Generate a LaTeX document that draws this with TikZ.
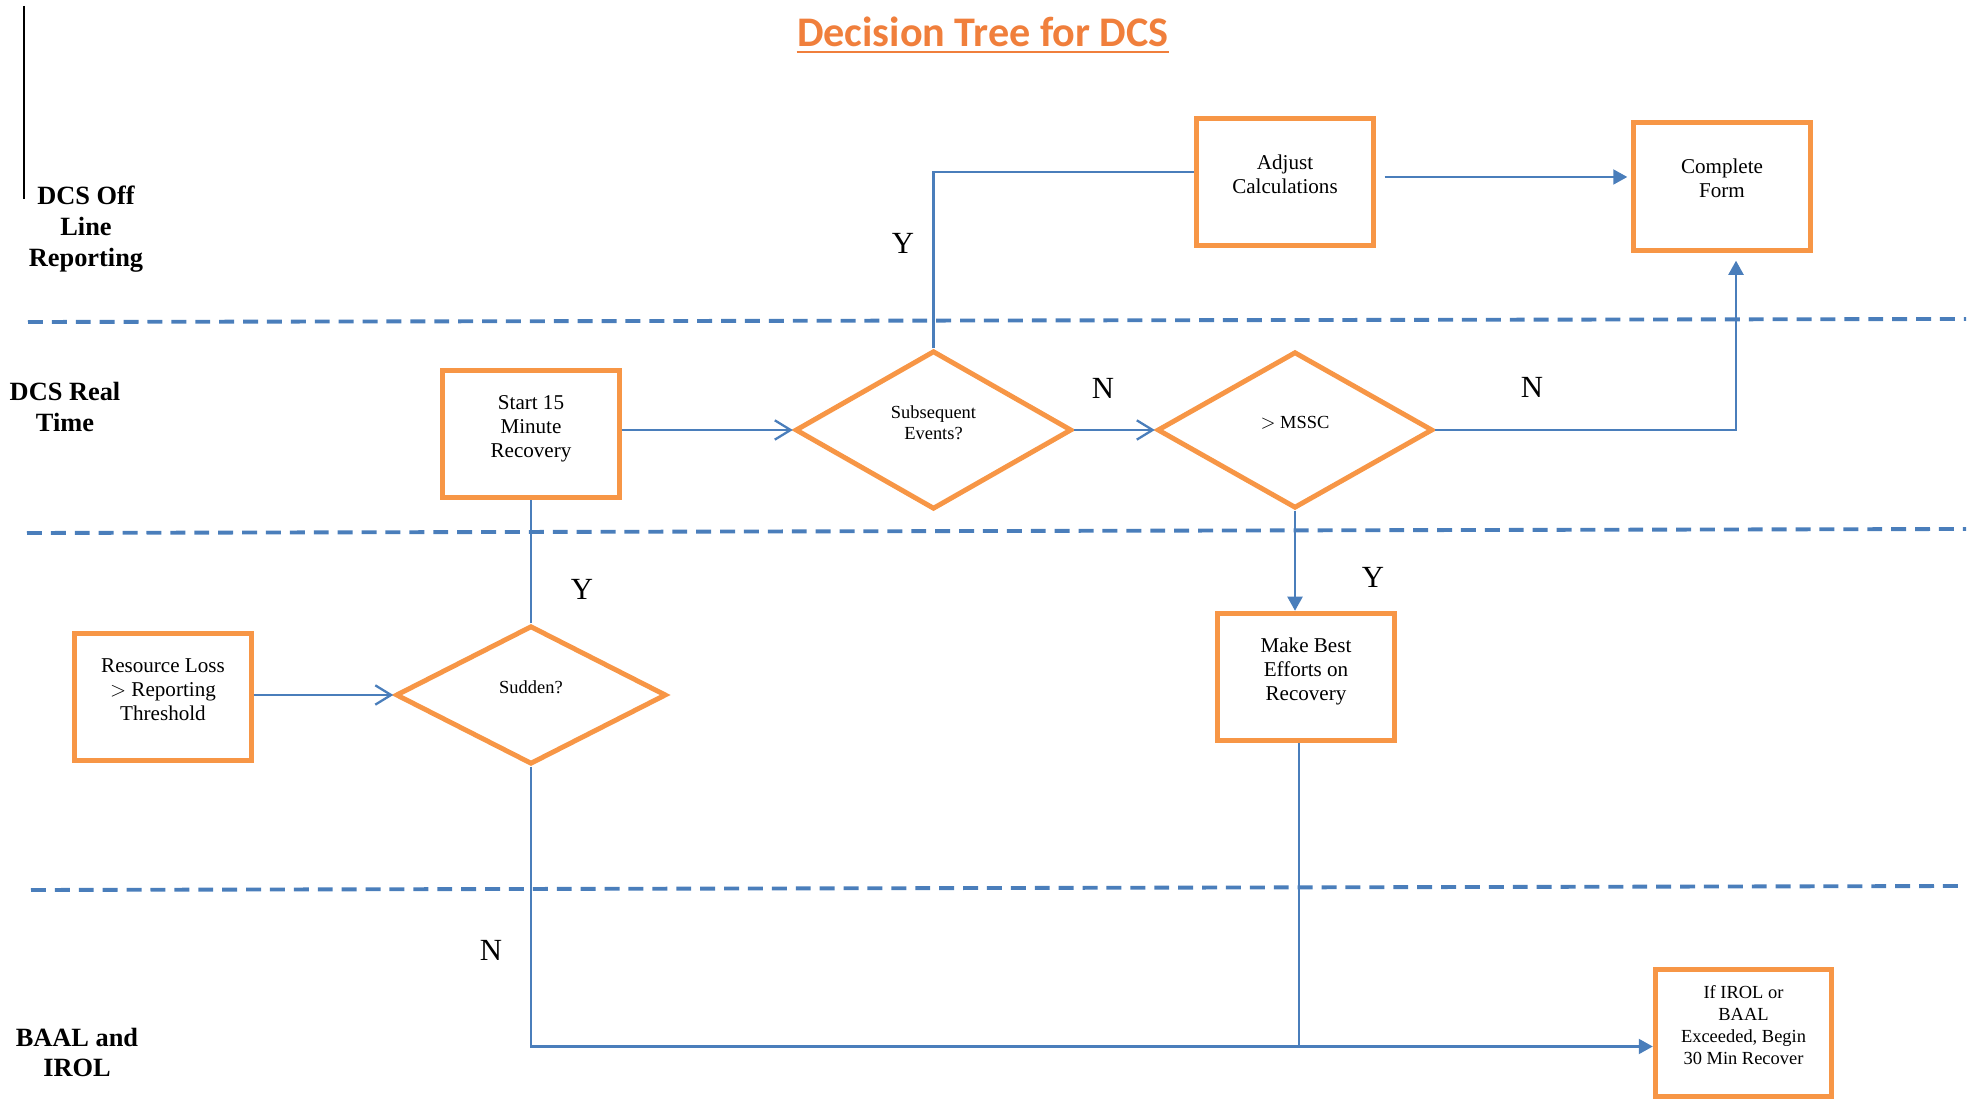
\documentclass[tikz,border=0pt]{standalone}
\usepackage{fontspec}
\setmainfont{Liberation Serif}
\newfontfamily\titlefont{Carlito}
\usetikzlibrary{shapes.geometric, arrows.meta}
\definecolor{boxorange}{HTML}{F79646}
\definecolor{titleorange}{HTML}{F07F3C}
\definecolor{lineblue}{HTML}{4A7EBB}
\newcommand{\boxlines}[1]{\raisebox{0.11cm}[\height][\depth]{\begin{tabular}{@{}c@{}}#1\end{tabular}}}
\tikzset{
	box/.style={draw=boxorange, line width=2.8pt, minimum width=3.53cm, minimum height=2.55cm, font=\fontsize{12}{13.8}\selectfont},
	smallbox/.style={box, font=\fontsize{10.5}{12.5}\selectfont},
	dec/.style={diamond, draw=boxorange, line width=2.8pt, inner sep=0pt, font=\fontsize{10.5}{12.1}\selectfont},
	ln/.style={draw=lineblue, line width=1.3pt},
	opn/.style={ln, -{Straight Barb[length=9pt, width=11pt]}},
	fil/.style={ln, -{Triangle[length=8pt, width=8.5pt]}},
	lane/.style={align=center, font=\fontsize{15}{17.6}\selectfont\bfseries},
	yn/.style={font=\fontsize{17.5}{20}\selectfont},
	sep/.style={draw=lineblue, line width=2.2pt, dash pattern=on 8.5pt off 5.1pt},
}
\begin{document}
\begin{tikzpicture}
	\useasboundingbox (0,0) rectangle (39.52,22);
	\node[anchor=base, inner sep=0pt, text=titleorange, font=\titlefont\bfseries\fontsize{24}{28}\selectfont] (title) at (19.66,21.06) {Decision Tree for DCS};
	\draw[titleorange, line width=1.4pt] ([yshift=-0.1cm]title.base west) -- ([yshift=-0.1cm]title.base east);
	\draw[line width=1.1pt] (0.48,21.88) -- (0.48,18.02);

	\draw[sep] (0.56,15.56) -- (39.32,15.62);
	\draw[sep] (0.54,11.34) -- (39.32,11.42);
	\draw[sep] (0.62,4.20) -- (39.32,4.28);

	\node[lane] (offline) at (1.72,17.41) {DCS Off\\Line\\Reporting};
	\node[lane] (realtime) at (1.30,13.86) {DCS Real\\Time};
	\node[lane] (baal) at (1.54,0.95) {BAAL and\\IROL};

	\node[box] (adj) at (25.70,18.36) {\boxlines{Adjust\\Calculations}};
	\node[box] (comp) at (34.44,18.27) {\boxlines{Complete\\Form}};
	\node[box] (start) at (10.62,13.32) {\boxlines{Start 15\\Minute\\Recovery}};
	\node[box] (res) at (3.26,8.06) {\boxlines{Resource Loss\\$>$ Reporting\\Threshold}};
	\node[box] (best) at (26.12,8.46) {\boxlines{Make Best\\Efforts on\\Recovery}};
	\node[smallbox] (irol) at (34.87,1.34) {\boxlines{If IROL or\\BAAL\\Exceeded, Begin\\30 Min Recover}};

	\node[dec, minimum width=5.53cm, minimum height=3.17cm] (subs) at (18.67,13.40) {\boxlines{Subsequent\\Events?}};
	\node[dec, minimum width=5.51cm, minimum height=3.13cm] (mssc) at (25.90,13.40) {\boxlines{$>$ MSSC}};
	\node[dec, minimum width=5.41cm, minimum height=2.77cm] (sud) at (10.62,8.10) {\boxlines{Sudden?}};

	\coordinate (jn) at (25.98,1.07);

	\draw[opn] (res.east |- sud.west) -- (sud.west);
	\draw[ln] (sud.north) -- (start.south);
	\draw[opn] (start.east |- subs.west) -- (subs.west);
	\draw[opn] (subs.east) -- (mssc.west);
	\draw[ln] (subs.north) |- ([yshift=0.2cm]adj.west);
	\draw[fil] ([shift={(0.18,0.1)}]adj.east) -- ([shift={(-0.08,0.19)}]comp.west);
	\draw[fil] (mssc.east) -| ([shift={(0.28,-0.16)}]comp.south);
	\draw[fil] (mssc.south) -- (mssc.south |- best.north);
	\draw[ln] (sud.south) |- (jn);
	\draw[fil] (best.south -| jn) -- (jn) -- (jn -| irol.west);

	\node[yn] (y1) at (18.06,17.14) {Y};
	\node[yn] (n1) at (22.06,14.24) {N};
	\node[yn] (n2) at (30.64,14.26) {N};
	\node[yn] (y2) at (11.64,10.22) {Y};
	\node[yn] (y3) at (27.46,10.46) {Y};
	\node[yn] (n3) at (9.82,3.00) {N};
\end{tikzpicture}
\end{document}
